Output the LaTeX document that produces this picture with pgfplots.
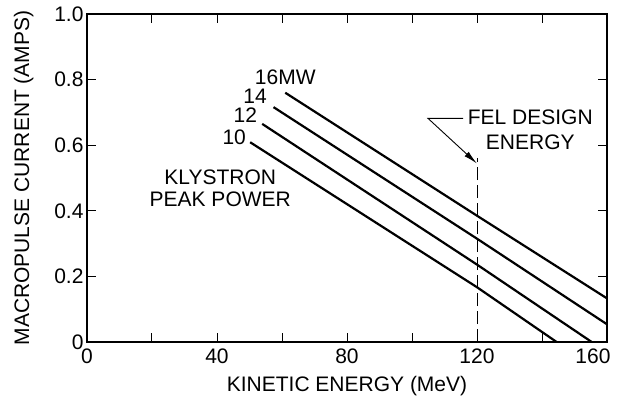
\documentclass[border=0pt]{standalone}
\usepackage{fontspec}
\setmainfont{Liberation Sans}
\usepackage{pgfplots}
\pgfplotsset{compat=1.18}
\usetikzlibrary{calc,arrows.meta}
\begin{document}
\begin{tikzpicture}
\begin{axis}[
  scale only axis,
  width=520pt, height=328pt,
  xmin=0, xmax=160, ymin=0, ymax=1.0,
  axis line style={line width=1.1pt},
  every tick/.style={line width=1pt, black},
  major tick length=9pt,
  tick align=inside,
  xtick={0,20,...,160},
  xticklabels={0,,40,,80,,120,,{\hspace*{-28pt}160}},
  ytick={0,0.2,0.4,0.6,0.8,1.0},
  yticklabels={0,0.2,0.4,0.6,0.8,1.0},
  /pgf/number format/assume math mode=true,
  tick label style={font=\fontsize{21}{25}\selectfont},
  xticklabel style={yshift=-3pt},
  label style={font=\fontsize{21}{25}\selectfont},
  xlabel={KINETIC ENERGY (MeV)},
  ylabel={MACROPULSE CURRENT (AMPS)},
  xlabel style={yshift=-6pt},
  ylabel style={yshift=14pt},
  clip=false,
]
\addplot[black, line width=2.2pt] coordinates {(61,0.76) (120,0.385) (160,0.133)};
\addplot[black, line width=2.2pt] coordinates {(57.4,0.716) (120,0.315) (160,0.054)};
\addplot[black, line width=2.2pt] coordinates {(53.9,0.665) (120,0.236) (155.3,0)};
\addplot[black, line width=2.2pt] coordinates {(50.2,0.609) (120,0.167) (144.5,0)};
\addplot[black, line width=0.9pt, dash pattern=on 13pt off 5pt] coordinates {(120,0) (120,0.56)};
\addplot[black, line width=0.9pt, -{Latex[length=14pt,width=6pt]}] coordinates {(115.7,0.682) (104.9,0.682) (120,0.544)};
\node[font=\fontsize{21}{25}\selectfont] at (axis cs:61,0.808) {16MW};
\node[font=\fontsize{21}{25}\selectfont] at (axis cs:51.7,0.749) {14};
\node[font=\fontsize{21}{25}\selectfont] at (axis cs:48.7,0.691) {12};
\node[font=\fontsize{21}{25}\selectfont] at (axis cs:45.3,0.624) {10};
\node[font=\fontsize{21}{22.5}\selectfont, align=center] at (axis cs:41,0.468) {KLYSTRON\\PEAK POWER};
\node[font=\fontsize{21}{25}\selectfont, align=center] at (axis cs:136.4,0.646) {FEL DESIGN\\ENERGY};
\end{axis}
\pgfresetboundingbox
\path ($(current axis.south west)+(-87pt,-76pt)$) rectangle ($(current axis.north east)+(14pt,14pt)$);
\end{tikzpicture}
\end{document}
